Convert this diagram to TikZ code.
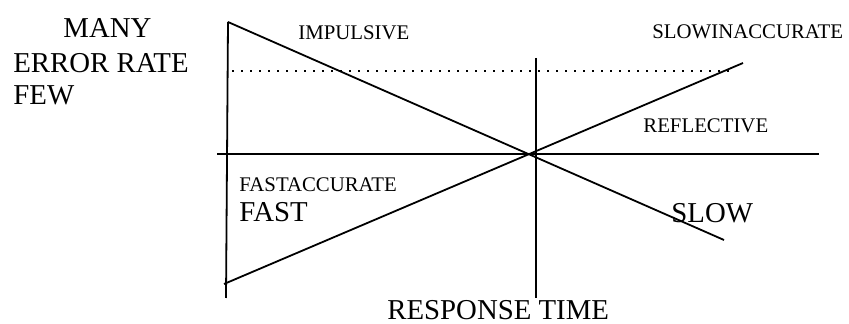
\documentclass[tikz,border=0pt]{standalone}
\usepackage{fontspec}
\setmainfont{Liberation Serif}
\usepackage{tikz}
\usetikzlibrary{positioning, calc}

\begin{document}
\begin{tikzpicture}[
    x=0.5pt, y=-0.5pt,
    axis/.style={line width=0.9pt},
    trend/.style={line width=0.9pt},
    level/.style={line width=0.9pt, dash pattern=on 0.9pt off 3.6pt},
    big/.style={anchor=base west, inner sep=0pt, font=\fontsize{14.4}{17}\selectfont},
    small/.style={anchor=base west, inner sep=0pt, font=\fontsize{10.4}{12}\selectfont}
]
\useasboundingbox (0,0) rectangle (849,324);

% Corner points
\coordinate (ltop) at (228,22);
\coordinate (lbot) at (226,298);
\coordinate (hleft) at (217,154);
\coordinate (hright) at (819,154);
\coordinate (vtop) at (536,58);
\coordinate (vbot) at (536,298);
\coordinate (fall) at (724,240);
\coordinate (rstart) at (224,284);
\coordinate (rise) at (743,63);
\coordinate (dleft) at (232,71);
\coordinate (dright) at (733,71);

% Labels
\node[big] (many) at (63,38) {MANY};
\node[big] (error) at (13,73) {ERROR RATE};
\node[big] (few) at (13,105) {FEW};
\node[small] (impulsive) at (298,40) {IMPULSIVE};
\node[small] (slowinacc) at (652,39) {SLOWINACCURATE};
\node[small] (reflective) at (643,133) {REFLECTIVE};
\node[small] (fastacc) at (239,192) {FASTACCURATE};
\node[big] (fast) at (239,222) {FAST};
\node[big] (slow) at (671,223) {SLOW};
\node[big] (response) at (387,320) {RESPONSE TIME};

% Axes
\draw[axis] (ltop) -- (lbot);
\draw[axis] (hleft) -- (hright);
\draw[axis] (vtop) -- (vbot);

% Trends
\draw[trend] (ltop) -- (fall);
\draw[trend] (rstart) -- (rise);
\draw[level] (dleft) -- (dright);

\end{tikzpicture}
\end{document}
